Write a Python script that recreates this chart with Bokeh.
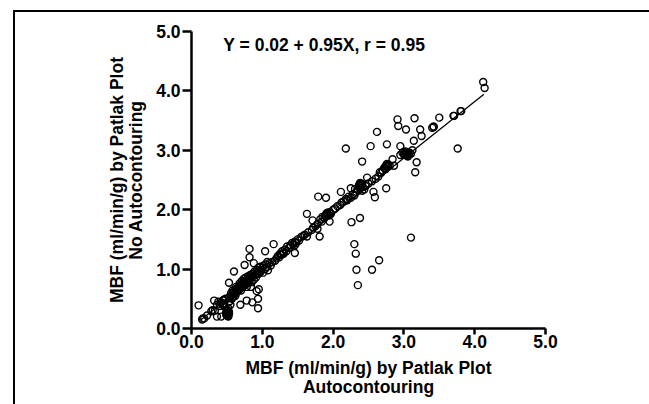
from bokeh.plotting import figure
from bokeh.models import (Range1d, FixedTicker, Label, NumeralTickFormatter,
                          ColumnDataSource, InlineStyleSheet)
from bokeh.embed import file_html
from bokeh.resources import INLINE

# --- data ---
x_auto = [
    # lower-left dense band
    0.15, 0.18, 0.22, 0.28, 0.33, 0.36, 0.38, 0.40, 0.42, 0.44, 0.45, 0.46, 0.47, 0.48, 0.49,
    0.50, 0.50, 0.51, 0.52, 0.52, 0.53, 0.53, 0.54, 0.55, 0.55, 0.56, 0.57, 0.58, 0.58, 0.59,
    0.60, 0.61, 0.62, 0.62, 0.63, 0.64, 0.65, 0.66, 0.67, 0.68, 0.68, 0.69, 0.70, 0.70, 0.71,
    0.72, 0.73, 0.74, 0.74, 0.75, 0.76, 0.77, 0.78, 0.78, 0.79, 0.80, 0.80, 0.81, 0.82, 0.83,
    0.84, 0.85, 0.86, 0.87, 0.88, 0.89, 0.90, 0.91, 0.92, 0.93, 0.94, 0.95, 0.96, 0.97, 0.98,
    1.00, 1.01, 1.02, 1.04, 1.05, 1.07, 1.08, 1.10, 1.12, 1.14,
    # 1.15 - 1.6
    1.18, 1.20, 1.22, 1.24, 1.25, 1.27, 1.28, 1.30, 1.32, 1.34, 1.35, 1.38, 1.40, 1.42, 1.44,
    1.46, 1.48, 1.50, 1.52, 1.55, 1.58, 1.60,
    # 1.6 - 2.2
    1.65, 1.70, 1.72, 1.75, 1.78, 1.82, 1.85, 1.88, 1.90, 1.92, 1.94, 1.95, 1.97, 2.00, 2.03,
    2.06, 2.10, 2.12, 2.15, 2.18, 2.20, 2.22,
    # 2.2 - 2.8
    2.25, 2.28, 2.30, 2.33, 2.35, 2.36, 2.37, 2.38, 2.39, 2.40, 2.41, 2.42, 2.44, 2.46, 2.50,
    2.55, 2.60, 2.64, 2.68, 2.70, 2.72, 2.74, 2.75, 2.77, 2.78, 2.80,
    # ~3.0 cluster
    2.95, 2.98, 3.00, 3.02, 3.03, 3.05, 3.06, 3.08, 3.10, 3.12,
    3.40, 3.42, 3.70, 3.80,
    # extra points in the dense clusters
    0.49, 0.51, 0.53, 0.50, 0.52, 0.66, 0.72, 0.76, 0.80, 0.86, 1.91, 1.93, 1.96, 1.89,
    2.37, 2.39, 2.41, 2.38, 2.74, 2.76, 2.73, 3.01, 3.04, 3.07, 3.05, 1.26, 1.30, 1.46,
    # scattered points
    4.12, 4.14, 3.81, 3.71, 3.50, 3.42, 3.15, 3.23, 3.25, 2.91, 2.92, 3.03, 2.62, 2.18, 2.53,
    2.76, 2.95, 3.14, 3.76, 3.18, 3.16, 2.41, 2.84, 2.86, 2.66, 2.48, 2.75, 2.57, 2.59, 2.31,
    2.25, 2.11, 1.79, 1.90, 2.26, 2.38, 2.30, 2.32, 2.33, 2.35, 2.55, 2.65, 3.10, 1.63, 1.71,
    1.81, 1.84, 1.95, 1.78, 1.63, 1.46, 1.16, 1.04, 1.07, 0.82, 0.82, 0.75, 0.88, 0.60, 0.53,
    0.95, 0.94, 0.94, 0.92, 0.86, 0.78, 0.69, 0.84, 0.10, 0.32, 0.30, 0.36, 0.42, 0.16, 0.45,
    0.50, 0.52,
]
y_no_auto = [
    0.15, 0.17, 0.22, 0.29, 0.30, 0.40, 0.45, 0.38, 0.44, 0.40, 0.48, 0.42, 0.36, 0.50, 0.26,
    0.22, 0.30, 0.24, 0.20, 0.34, 0.28, 0.52, 0.46, 0.55, 0.40, 0.60, 0.50, 0.57, 0.64, 0.53,
    0.62, 0.58, 0.66, 0.55, 0.70, 0.61, 0.68, 0.64, 0.72, 0.66, 0.76, 0.70, 0.74, 0.64, 0.80,
    0.70, 0.77, 0.84, 0.72, 0.80, 0.74, 0.86, 0.79, 0.70, 0.82, 0.88, 0.76, 0.84, 0.80, 0.90,
    0.86, 0.78, 0.92, 0.88, 0.82, 0.96, 0.90, 0.86, 0.98, 0.94, 1.02, 0.92, 0.98, 1.04, 0.96,
    1.02, 0.94, 1.06, 1.00, 1.08, 1.04, 0.98, 1.10, 1.06, 1.12,
    1.14, 1.18, 1.22, 1.20, 1.26, 1.24, 1.30, 1.27, 1.33, 1.30, 1.38, 1.36, 1.40, 1.44, 1.42,
    1.46, 1.44, 1.50, 1.48, 1.54, 1.56, 1.58,
    1.62, 1.66, 1.70, 1.72, 1.76, 1.84, 1.88, 1.86, 1.92, 1.95, 1.90, 1.96, 1.93, 2.00, 2.02,
    2.06, 2.08, 2.12, 2.14, 2.18, 2.16, 2.22,
    2.20, 2.26, 2.24, 2.30, 2.34, 2.38, 2.42, 2.36, 2.44, 2.40, 2.32, 2.38, 2.34, 2.40, 2.44,
    2.48, 2.52, 2.56, 2.62, 2.66, 2.70, 2.68, 2.74, 2.72, 2.76, 2.74,
    2.92, 2.96, 2.93, 2.98, 2.92, 2.95, 2.90, 2.96, 2.94, 3.00,
    3.38, 3.40, 3.58, 3.66,
    0.23, 0.27, 0.25, 0.32, 0.21, 0.70, 0.74, 0.80, 0.84, 0.88, 1.94, 1.91, 1.95, 1.90,
    2.41, 2.37, 2.43, 2.45, 2.73, 2.77, 2.70, 2.95, 2.97, 2.93, 2.90, 1.24, 1.26, 1.40,
    4.15, 4.05, 3.66, 3.58, 3.55, 3.39, 3.54, 3.35, 3.24, 3.52, 3.41, 3.35, 3.31, 3.03, 3.07,
    3.10, 3.07, 3.16, 3.03, 2.80, 2.63, 2.81, 2.85, 2.74, 2.63, 2.54, 2.36, 2.30, 2.21, 2.35,
    2.36, 2.30, 2.22, 2.20, 1.79, 1.86, 1.42, 1.26, 0.99, 0.73, 0.99, 1.15, 1.53, 1.93, 1.82,
    1.55, 1.80, 1.80, 1.68, 1.55, 1.27, 1.42, 1.30, 1.12, 1.34, 1.20, 1.07, 1.10, 0.96, 0.77,
    0.66, 0.50, 0.34, 0.63, 0.44, 0.47, 0.40, 0.70, 0.39, 0.47, 0.31, 0.20, 0.20, 0.17, 0.47,
    0.28, 0.26,
]

intercept = 0.02
slope = 0.95
fit_x = [0.13, 4.13]
fit_y = [intercept + slope * v for v in fit_x]

tick_values = [0, 1, 2, 3, 4, 5]
equation = "Y = 0.02 + 0.95X, r = 0.95"

FONT = "Liberation Sans"
FS = "17.5px"

# outer frame of the figure panel (only top and left edges visible in the scan)
frame_css = InlineStyleSheet(css="""
:host {
  background:
    linear-gradient(#000, #000) 13px 10px / 700px 2px no-repeat,
    linear-gradient(#000, #000) 13px 10px / 2px 500px no-repeat,
    #fff;
}
""")

p = figure(width=649, height=404, output_backend="svg", toolbar_location=None,
           x_range=Range1d(0, 5), y_range=Range1d(0, 5),
           min_border_left=191, min_border_right=104, min_border_top=31, min_border_bottom=76)
p.stylesheets = [frame_css]
p.outline_line_color = None
p.grid.visible = False
p.background_fill_color = "white"
p.border_fill_color = None

for ax in (p.xaxis[0], p.yaxis[0]):
    ax.ticker = FixedTicker(ticks=tick_values)
    ax.formatter = NumeralTickFormatter(format="0.0")
    ax.minor_tick_line_color = None
    ax.major_tick_in = 0
    ax.axis_line_width = 2.5
    ax.major_tick_line_width = 2.5
    ax.major_label_text_font = FONT
    ax.major_label_text_font_size = FS
    ax.major_label_text_font_style = "bold"
    ax.major_label_text_color = "black"
    ax.axis_label_text_font = FONT
    ax.axis_label_text_font_size = FS
    ax.axis_label_text_font_style = "bold"
    ax.axis_label_text_color = "black"
    ax.axis_label_text_line_height = 0.95

p.xaxis.major_tick_out = 6
p.yaxis.major_tick_out = 9
p.xaxis.major_label_standoff = 0
p.yaxis.major_label_standoff = 2
p.xaxis.axis_label = "MBF (ml/min/g) by Patlak Plot\nAutocontouring"
p.yaxis.axis_label = "MBF (ml/min/g) by Patlak Plot\nNo Autocontouring"
p.xaxis.axis_label_standoff = 7
p.yaxis.axis_label_standoff = 7

src = ColumnDataSource(dict(x=x_auto, y=y_no_auto))
p.scatter("x", "y", source=src, marker="circle", size=7, fill_alpha=0,
          line_color="black", line_width=1.4)
p.line(fit_x, fit_y, line_color="black", line_width=1.3)

p.add_layout(Label(x=0.45, y=4.78, text=equation, text_font=FONT, text_font_size=FS,
                   text_font_style="bold", text_baseline="middle", text_color="black"))

open("out.html", "w").write(file_html(p, INLINE))
